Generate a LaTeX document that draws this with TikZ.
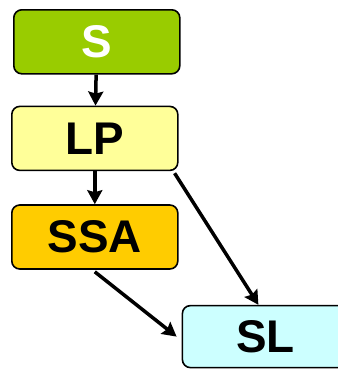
\documentclass[tikz,border=0pt]{standalone}
\usepackage{fontspec}
\setmainfont{Liberation Sans}
\usetikzlibrary{arrows.meta, positioning}
\definecolor{sgreen}{HTML}{99CC00}
\definecolor{lpyellow}{HTML}{FFFF99}
\definecolor{ssaorange}{HTML}{FFCC00}
\definecolor{slcyan}{HTML}{CCFFFF}
\tikzstyle{stage} = [rectangle, rounded corners=8bp, draw, line width=1.6bp, text centered, minimum width=166bp, minimum height=64bp, font=\fontsize{46}{50}\selectfont\bfseries]
\tikzstyle{flow} = [line width=3.5bp, -{Stealth[length=14bp, width=15bp, inset=2bp]}, black]

\begin{document}
\begin{tikzpicture}
	\useasboundingbox (0,0) rectangle (338bp,-370bp);

	% Stages
	\node (s) [stage, fill=sgreen, text=white, anchor=north west] at (13bp,-9bp) {S};
	\node (lp) [stage, fill=lpyellow, below=31bp of s, xshift=-2bp] {LP};
	\node (ssa) [stage, fill=ssaorange, below=33bp of lp] {SSA};
	\node (sl) [stage, fill=slcyan, minimum height=62bp, below right=35bp and 3bp of ssa] {SL};

	% Arrows
	\draw[flow] (s) -- (lp);
	\draw[flow] (lp) -- (ssa);
	\draw[flow] ([xshift=-4bp, yshift=-2bp]lp.south east) -- ([xshift=-7bp]sl.north);
	\draw[flow] ([yshift=-2bp]ssa.south) -- ([xshift=-5bp]sl.west);

\end{tikzpicture}
\end{document}
